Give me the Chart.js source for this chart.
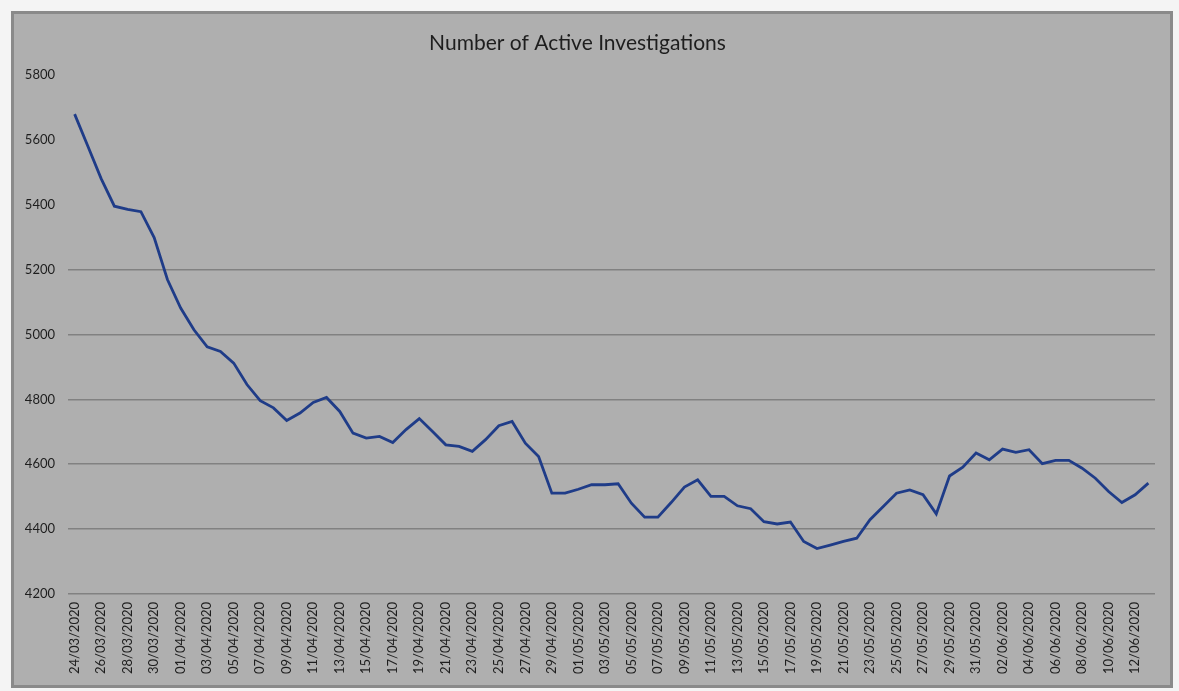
<!DOCTYPE html>
<html>
<head>
<meta charset="utf-8">
<script src="https://cdn.jsdelivr.net/npm/chart.js@4/dist/chart.umd.min.js"></script>
<style>
  html, body { margin: 0; padding: 0; background: #f4f4f4; }
  body { width: 1179px; height: 691px; position: relative; overflow: hidden; }
  #frame { position: absolute; left: 11px; top: 11px; width: 1162px; height: 677px;
           box-sizing: border-box; border: 3px solid #8a8a8a; background: #afafaf; }
  #wrap { position: absolute; left: 0; top: 0; width: 1179px; height: 691px; }
</style>
</head>
<body>
<div id="frame"></div>
<div id="wrap"><canvas id="c" width="1179" height="691"></canvas></div>
<script>
const dates = [
  "24/03/2020","25/03/2020","26/03/2020","27/03/2020","28/03/2020","29/03/2020","30/03/2020","31/03/2020",
  "01/04/2020","02/04/2020","03/04/2020","04/04/2020","05/04/2020","06/04/2020","07/04/2020","08/04/2020",
  "09/04/2020","10/04/2020","11/04/2020","12/04/2020","13/04/2020","14/04/2020","15/04/2020","16/04/2020",
  "17/04/2020","18/04/2020","19/04/2020","20/04/2020","21/04/2020","22/04/2020","23/04/2020","24/04/2020",
  "25/04/2020","26/04/2020","27/04/2020","28/04/2020","29/04/2020","30/04/2020",
  "01/05/2020","02/05/2020","03/05/2020","04/05/2020","05/05/2020","06/05/2020","07/05/2020","08/05/2020",
  "09/05/2020","10/05/2020","11/05/2020","12/05/2020","13/05/2020","14/05/2020","15/05/2020","16/05/2020",
  "17/05/2020","18/05/2020","19/05/2020","20/05/2020","21/05/2020","22/05/2020","23/05/2020","24/05/2020",
  "25/05/2020","26/05/2020","27/05/2020","28/05/2020","29/05/2020","30/05/2020","31/05/2020",
  "01/06/2020","02/06/2020","03/06/2020","04/06/2020","05/06/2020","06/06/2020","07/06/2020","08/06/2020",
  "09/06/2020","10/06/2020","11/06/2020","12/06/2020","13/06/2020"
];

const activeInvestigations = [
  5680, 5581, 5481, 5396, 5386, 5379, 5299, 5170,
  5082, 5015, 4962, 4948, 4912, 4846, 4796, 4774,
  4735, 4758, 4791, 4806, 4763, 4696, 4681, 4686,
  4667, 4707, 4741, 4701, 4660, 4655, 4640, 4676,
  4719, 4732, 4665, 4624, 4511, 4511,
  4523, 4537, 4537, 4540, 4480, 4437, 4437, 4482,
  4530, 4552, 4501, 4501, 4472, 4463, 4423, 4416,
  4422, 4362, 4340, 4351, 4362, 4372, 4429, 4470,
  4511, 4521, 4506, 4447, 4564, 4591, 4635,
  4614, 4647, 4637, 4645, 4602, 4612, 4612, 4588,
  4557, 4516, 4482, 4506, 4542
];

const yMin = 4200;
const yMax = 5800;
const yStep = 200;
const gridTopValue = 5200;   // gridlines visible only up to this value
const chartTitle = "Number of Active Investigations";

const FONT = "Lato, 'Liberation Sans', sans-serif";

new Chart(document.getElementById('c'), {
  type: 'line',
  data: {
    labels: dates,
    datasets: [{
      label: 'Active investigations',
      data: activeInvestigations,
      borderColor: '#1f3c88',
      borderWidth: 2.8,
      pointRadius: 0,
      tension: 0,
      fill: false
    }]
  },
  options: {
    responsive: false,
    animation: false,
    layout: { padding: { left: 0, right: 24, top: 0, bottom: 0 } },
    plugins: {
      legend: { display: false },
      tooltip: { enabled: false },
      title: {
        display: true,
        text: chartTitle,
        color: '#1e1e1e',
        font: { family: FONT, size: 21, weight: 'normal' },
        padding: { top: 31, bottom: 19 }
      }
    },
    scales: {
      x: {
        offset: true,
        grid: { display: false, drawTicks: false },
        border: { display: false },
        ticks: {
          autoSkip: false,
          maxRotation: 90,
          minRotation: 90,
          padding: 8,
          color: '#1e1e1e',
          font: { family: FONT, size: 13 },
          callback: function (v, i) { return i % 2 === 0 ? dates[i] : ''; }
        },
        afterFit: function (axis) { axis.height = 97; }
      },
      y: {
        min: yMin,
        max: yMax,
        grid: {
          drawTicks: false,
          lineWidth: 1.6,
          color: function (ctx) {
            return (ctx.tick && ctx.tick.value <= gridTopValue) ? '#818181' : 'rgba(0,0,0,0)';
          }
        },
        border: { display: false },
        ticks: {
          stepSize: yStep,
          padding: 13,
          color: '#1e1e1e',
          font: { family: FONT, size: 13 },
          callback: function (v) { return String(v); }
        },
        afterFit: function (axis) { axis.width = 68; }
      }
    }
  }
});
</script>
</body>
</html>
